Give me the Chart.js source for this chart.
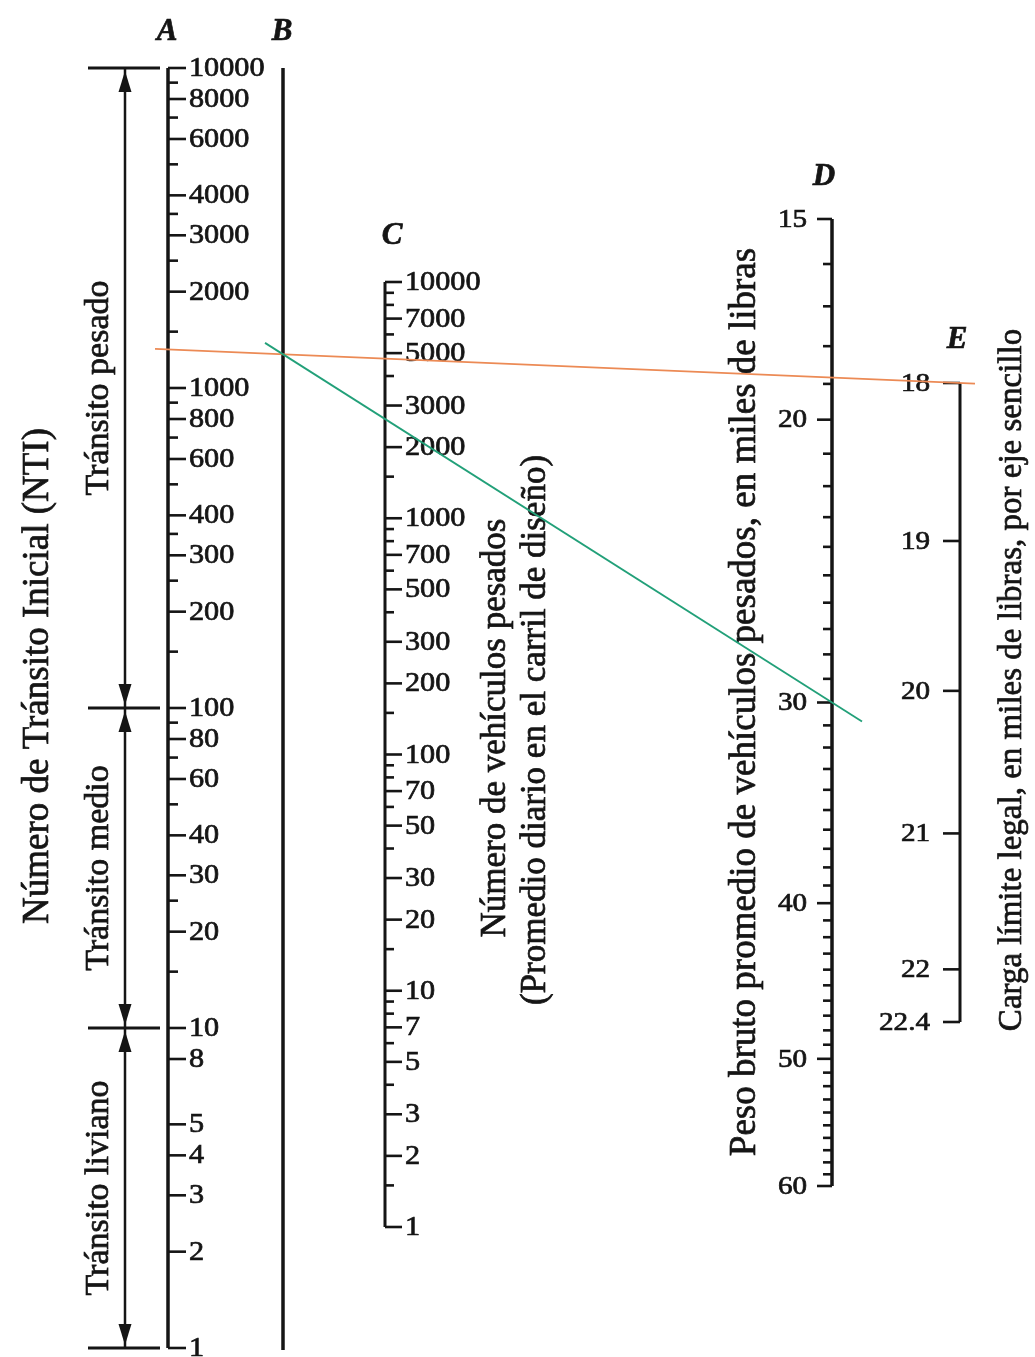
<!DOCTYPE html>
<html>
<head>
<meta charset="utf-8">
<script src="https://cdn.jsdelivr.net/npm/chart.js@4.4.1/dist/chart.umd.min.js"></script>
<style>
  html, body { margin: 0; padding: 0; background: #fff; }
  #wrap { width: 1035px; height: 1357px; }
</style>
</head>
<body>
<div id="wrap"><canvas id="nomo"></canvas></div>
<script>
  // Scale A: Número de Tránsito Inicial (NTI)
  const ntiTicks = [10000, 9000, 8000, 7000, 6000, 5000, 4000, 3500, 3000, 2500, 2000, 1500,
    1000, 900, 800, 700, 600, 500, 400, 350, 300, 250, 200, 150,
    100, 90, 80, 70, 60, 50, 40, 30, 25, 20, 15,
    10, 8, 5, 4, 3, 2, 1];
  const ntiLabels = [10000, 8000, 6000, 4000, 3000, 2000, 1000, 800, 600, 400, 300, 200,
    100, 80, 60, 40, 30, 20, 10, 8, 5, 4, 3, 2, 1];

  // traffic classes along scale A
  const zoneBounds = [10000, 100, 10, 1];
  const zoneNames = ['Tránsito pesado', 'Tránsito medio', 'Tránsito liviano'];

  // Scale C: heavy vehicles per day in the design lane
  const heavyTicks = [10000, 9000, 8000, 7000, 6000, 5000, 4000, 3000, 2000, 1500,
    1000, 900, 800, 700, 600, 500, 400, 300, 200, 150,
    100, 90, 80, 70, 60, 50, 40, 30, 20, 15,
    10, 9, 8, 7, 6, 5, 4, 3, 2, 1.5, 1];
  const heavyLabels = [10000, 7000, 5000, 3000, 2000, 1000, 700, 500, 300, 200,
    100, 70, 50, 30, 20, 10, 7, 5, 3, 2, 1];

  // Scale D: average gross weight (kips)
  const weightTicks = [15, 16, 17, 18, 19, 20, 21, 22, 23, 24, 25, 26, 27, 28, 29, 30,
    31, 32, 33, 34, 35, 36, 37, 38, 39, 40, 41, 42, 43, 44, 45,
    46, 47, 48, 49, 50, 51, 52, 53, 54, 55, 56, 57, 58, 59, 60];
  const weightLabels = [15, 20, 30, 40, 50, 60];

  // Scale E: legal single-axle load limit (kips)
  const loadTicks = [18, 19, 20, 21, 22, 22.4];
  const loadLabels = [18, 19, 20, 21, 22, 22.4];

  // worked example: NTI 1320 across to 18 kips, then pivot on B through 30 kips
  const orangeFrom = ['yA', 1320];
  const orangeTo = ['yE', 18];
  const greenTo = ['yD', 30];

  const scaleLetters = ['A', 'B', 'C', 'D', 'E'];
  const titleA = 'Número de Tránsito Inicial (NTI)';
  const titleC = ['Número de vehículos pesados', '(Promedio diario en el carril de diseño)'];
  const titleD = 'Peso bruto promedio de vehículos pesados, en miles de libras';
  const titleE = 'Carga límite legal, en miles de libras, por eje sencillo';

  // ---- layout ----
  const W = 1035, H = 1357;
  const INK = '#151515';
  const SERIF = '"Liberation Serif", "Times New Roman", Times, serif';
  const AX = { A: 168, B: 283, C: 385, D: 832, E: 960 };
  const ZONE = { left: 88, right: 160, shaft: 125, text: 99 };

  // min/max of a log scale so that v1 sits at pixel p1 and v2 at p2
  function logBounds(v1, p1, v2, p2, reverse) {
    const d = p => reverse ? p / H : (H - p) / H;
    const R = (Math.log10(v2) - Math.log10(v1)) / (d(p2) - d(p1));
    const L0 = Math.log10(v1) - d(p1) * R;
    return { min: Math.pow(10, L0), max: Math.pow(10, L0 + R) };
  }
  const boundsA = logBounds(1, 1348, 10000, 68, false);
  const boundsC = logBounds(1, 1227, 10000, 282, false);
  const boundsD = logBounds(15, 219, 60, 1186, true);
  const boundsE = logBounds(18, 383, 22.4, 1022, true);

  function segment(axisId, pts, width) {
    return {
      yAxisID: axisId,
      data: pts,
      showLine: true,
      borderColor: INK,
      borderWidth: width,
      pointRadius: 0,
    };
  }

  const datasets = [
    segment('yA', [{ x: AX.A, y: 1 }, { x: AX.A, y: 10000 }], 3.5),
    segment('yA', [{ x: AX.B, y: 0.985 }, { x: AX.B, y: 10000 }], 3.5),
    segment('yC', [{ x: AX.C, y: 1 }, { x: AX.C, y: 10000 }], 3),
    segment('yD', [{ x: AX.D, y: 15 }, { x: AX.D, y: 60 }], 3.5),
    segment('yE', [{ x: AX.E, y: 18 }, { x: AX.E, y: 22.4 }], 3),
    segment('yA', [{ x: ZONE.shaft, y: 1 }, { x: ZONE.shaft, y: 10000 }], 2.5),
  ];
  zoneBounds.forEach(b => {
    datasets.push(segment('yA', [{ x: ZONE.left, y: b }, { x: ZONE.right, y: b }], 3));
  });

  const scaleSpecs = [
    { id: 'yA', x: AX.A, dir: 1, ticks: ntiTicks, labels: ntiLabels, major: 18, minor: 10, gap: 3, size: 27 },
    { id: 'yC', x: AX.C, dir: 1, ticks: heavyTicks, labels: heavyLabels, major: 17, minor: 9, gap: 3, size: 27 },
    { id: 'yD', x: AX.D, dir: -1, ticks: weightTicks, labels: weightLabels, major: 15, minor: 9, gap: 10, size: 26 },
    { id: 'yE', x: AX.E, dir: -1, ticks: loadTicks, labels: loadLabels, major: 17, minor: 17, gap: 13, size: 26 },
  ];

  // filled text with a hairline stroke so it reads as heavy as the printed chart
  function text(ctx, str, x, y, font, align, stretch, rotate) {
    ctx.save();
    ctx.translate(x, y);
    if (rotate) ctx.rotate(rotate);
    ctx.scale(stretch || 1, 1);
    ctx.font = font;
    ctx.textAlign = align || 'center';
    ctx.textBaseline = 'middle';
    ctx.lineWidth = 0.7;
    ctx.strokeStyle = INK;
    ctx.fillText(str, 0, 0);
    ctx.strokeText(str, 0, 0);
    ctx.restore();
  }

  function arrowhead(ctx, x, tipY, dir) {
    // dir -1 points up, +1 points down
    ctx.beginPath();
    ctx.moveTo(x, tipY);
    ctx.lineTo(x - 6.5, tipY - dir * 21);
    ctx.lineTo(x + 6.5, tipY - dir * 21);
    ctx.closePath();
    ctx.fill();
  }

  const nomograph = {
    id: 'nomograph',
    afterDatasetsDraw(chart) {
      const { ctx, scales } = chart;
      const px = (id, v) => scales[id].getPixelForValue(v);
      const up = -Math.PI / 2;
      ctx.save();
      ctx.fillStyle = INK;
      ctx.strokeStyle = INK;

      // tick marks and tick labels
      scaleSpecs.forEach(s => {
        s.ticks.forEach(v => {
          const y = px(s.id, v);
          const len = s.labels.includes(v) ? s.major : s.minor;
          ctx.lineWidth = 2.6;
          ctx.beginPath();
          ctx.moveTo(s.x, y);
          ctx.lineTo(s.x + s.dir * len, y);
          ctx.stroke();
        });
        s.labels.forEach(v => {
          const y = px(s.id, v);
          text(ctx, String(v), s.x + s.dir * (s.major + s.gap), y + 1,
            s.size + 'px ' + SERIF, s.dir > 0 ? 'left' : 'right', 1.12);
        });
      });

      // traffic classes: double arrows between the bars
      for (let i = 0; i < zoneNames.length; i++) {
        const top = px('yA', zoneBounds[i]);
        const bot = px('yA', zoneBounds[i + 1]);
        arrowhead(ctx, ZONE.shaft, top + 3, -1);
        arrowhead(ctx, ZONE.shaft, bot - 3, 1);
        text(ctx, zoneNames[i], ZONE.text, (top + bot) / 2, '34px ' + SERIF, 'center', 1, up);
      }

      // axis titles
      text(ctx, titleA, 38, 676, '37px ' + SERIF, 'center', 1, up);
      text(ctx, titleC[0], 496, 728, '35px ' + SERIF, 'center', 1, up);
      text(ctx, titleC[1], 536, 730, '35px ' + SERIF, 'center', 1, up);
      text(ctx, titleD, 745, 702, '37px ' + SERIF, 'center', 1, up);
      text(ctx, titleE, 1012, 680, '33px ' + SERIF, 'center', 1, up);

      // scale letters
      const letterPos = [[167, 32], [282, 32], [392, 236], [824, 177], [957, 340]];
      scaleLetters.forEach((l, i) => {
        text(ctx, l, letterPos[i][0], letterPos[i][1], 'bold italic 31px ' + SERIF, 'center');
      });

      // example reading lines
      const o1 = { x: AX.A, y: px(orangeFrom[0], orangeFrom[1]) };
      const o2 = { x: AX.E, y: px(orangeTo[0], orangeTo[1]) };
      const along = (p, q, x) => p.y + (q.y - p.y) * (x - p.x) / (q.x - p.x);
      ctx.lineWidth = 1.8;
      ctx.strokeStyle = '#ec8a55';
      ctx.beginPath();
      ctx.moveTo(AX.A - 13, along(o1, o2, AX.A - 13));
      ctx.lineTo(AX.E + 15, along(o1, o2, AX.E + 15));
      ctx.stroke();

      const g1 = { x: AX.B, y: along(o1, o2, AX.B) };
      const g2 = { x: AX.D, y: px(greenTo[0], greenTo[1]) };
      ctx.strokeStyle = '#22a079';
      ctx.beginPath();
      ctx.moveTo(AX.B - 18, along(g1, g2, AX.B - 18));
      ctx.lineTo(AX.D + 30, along(g1, g2, AX.D + 30));
      ctx.stroke();

      ctx.restore();
    }
  };

  const config = {
    type: 'scatter',
    data: { datasets },
    options: {
      responsive: true,
      maintainAspectRatio: false,
      animation: false,
      events: [],
      layout: { padding: 0 },
      plugins: {
        legend: { display: false },
        tooltip: { enabled: false },
      },
      scales: {
        x: { type: 'linear', min: 0, max: W, display: false },
        y: { type: 'linear', min: 0, max: H, display: false },
        yA: { type: 'logarithmic', display: false, bounds: 'data', min: boundsA.min, max: boundsA.max },
        yC: { type: 'logarithmic', display: false, bounds: 'data', min: boundsC.min, max: boundsC.max },
        yD: { type: 'logarithmic', display: false, bounds: 'data', reverse: true, min: boundsD.min, max: boundsD.max },
        yE: { type: 'logarithmic', display: false, bounds: 'data', reverse: true, min: boundsE.min, max: boundsE.max },
      },
    },
    plugins: [nomograph],
  };

  new Chart(document.getElementById('nomo'), config);
</script>
</body>
</html>
